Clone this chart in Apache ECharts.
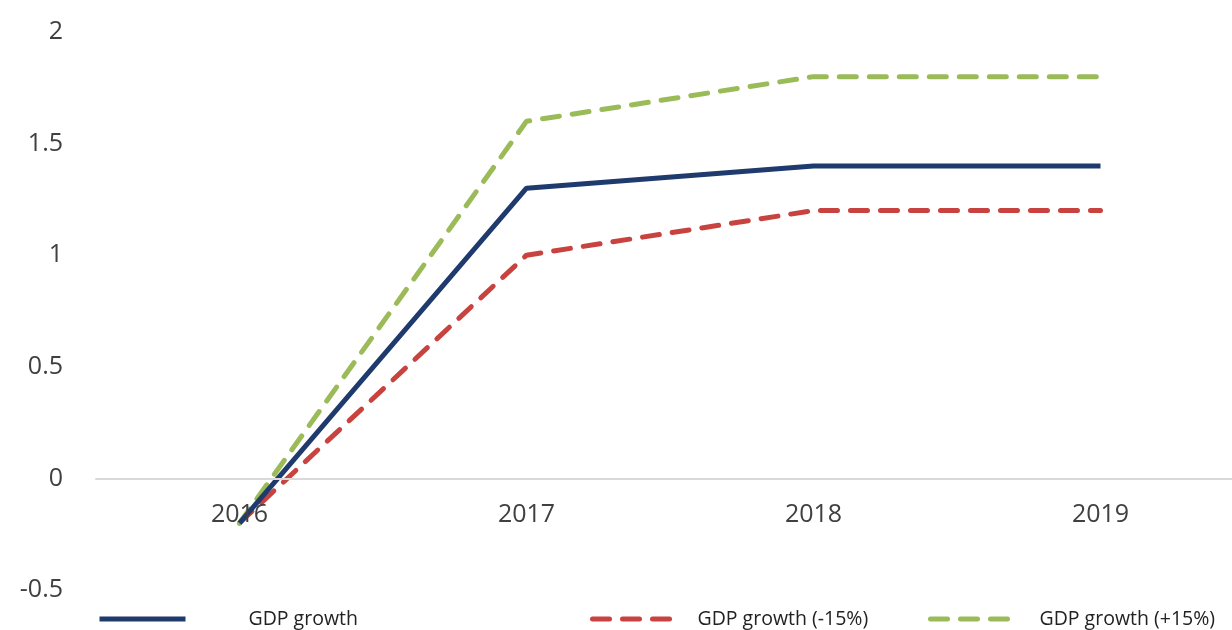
<!DOCTYPE html>
<html>
<head>
<meta charset="utf-8">
<script src="https://cdn.jsdelivr.net/npm/echarts@6/dist/echarts.min.js"></script>
<style>html,body{margin:0;padding:0;background:#fff;}#c{width:1232px;height:630px;}</style>
</head>
<body>
<div id="c"></div>
<script>
var years = ['2016', '2017', '2018', '2019'];
var gdpGrowth = [-0.2, 1.3, 1.4, 1.4];
var gdpMinus15 = [-0.2, 1.0, 1.2, 1.2];
var gdpPlus15 = [-0.2, 1.6, 1.8, 1.8];
var seriesNames = ['GDP growth', 'GDP growth (-15%)', 'GDP growth (+15%)'];

var Y_MIN = -0.5, Y_MAX = 2;
var GRID_TOP = 32, GRID_H = 558;
var zeroOffset = -GRID_H * (0 - Y_MIN) / (Y_MAX - Y_MIN);

var chart = echarts.init(document.getElementById('c'));
var legendBase = {
  top: 604,
  itemWidth: 86,
  itemHeight: 16,
  itemStyle: { opacity: 0 },
  lineStyle: { width: 5 },
  textStyle: { fontFamily: 'Open Sans', fontSize: 19.5, color: '#222' }
};
function legendAt(left, name, pad) {
  var l = JSON.parse(JSON.stringify(legendBase));
  l.left = left;
  l.data = [name];
  l.textStyle.padding = [0, 0, 0, pad];
  return l;
}
chart.setOption({
  animation: false,
  grid: { left: 96, top: GRID_TOP, width: 1148, height: GRID_H, containLabel: false, outerBoundsMode: 'none' },
  legend: [
    legendAt(92, seriesNames[0], 58),
    legendAt(585, seriesNames[1], 14),
    legendAt(923, seriesNames[2], 18)
  ],
  xAxis: {
    type: 'category',
    data: years,
    boundaryGap: true,
    z: 5,
    offset: zeroOffset,
    axisLine: { onZero: false, lineStyle: { color: '#d9d9d9', width: 2 } },
    axisTick: { show: false },
    axisLabel: { margin: 24, fontFamily: 'Open Sans', fontSize: 25, color: '#404040' }
  },
  yAxis: {
    type: 'value',
    min: Y_MIN,
    max: Y_MAX,
    interval: 0.5,
    axisLine: { show: false },
    axisTick: { show: false },
    splitLine: { show: false },
    axisLabel: { margin: 33, fontFamily: 'Open Sans', fontSize: 25, color: '#404040' }
  },
  series: [
    {
      name: seriesNames[0], type: 'line', data: gdpGrowth, symbol: 'none',
      lineStyle: { color: '#1f3b6d', width: 5 }, itemStyle: { color: '#1f3b6d' }, z: 3
    },
    {
      name: seriesNames[1], type: 'line', data: gdpMinus15, symbol: 'none',
      lineStyle: { color: '#c8433f', width: 5, type: [17, 13], cap: 'round' }, itemStyle: { color: '#c8433f' }, z: 2
    },
    {
      name: seriesNames[2], type: 'line', data: gdpPlus15, symbol: 'none',
      lineStyle: { color: '#9bbb59', width: 5, type: [17, 13], cap: 'round' }, itemStyle: { color: '#9bbb59' }, z: 2
    }
  ]
});
</script>
</body>
</html>
